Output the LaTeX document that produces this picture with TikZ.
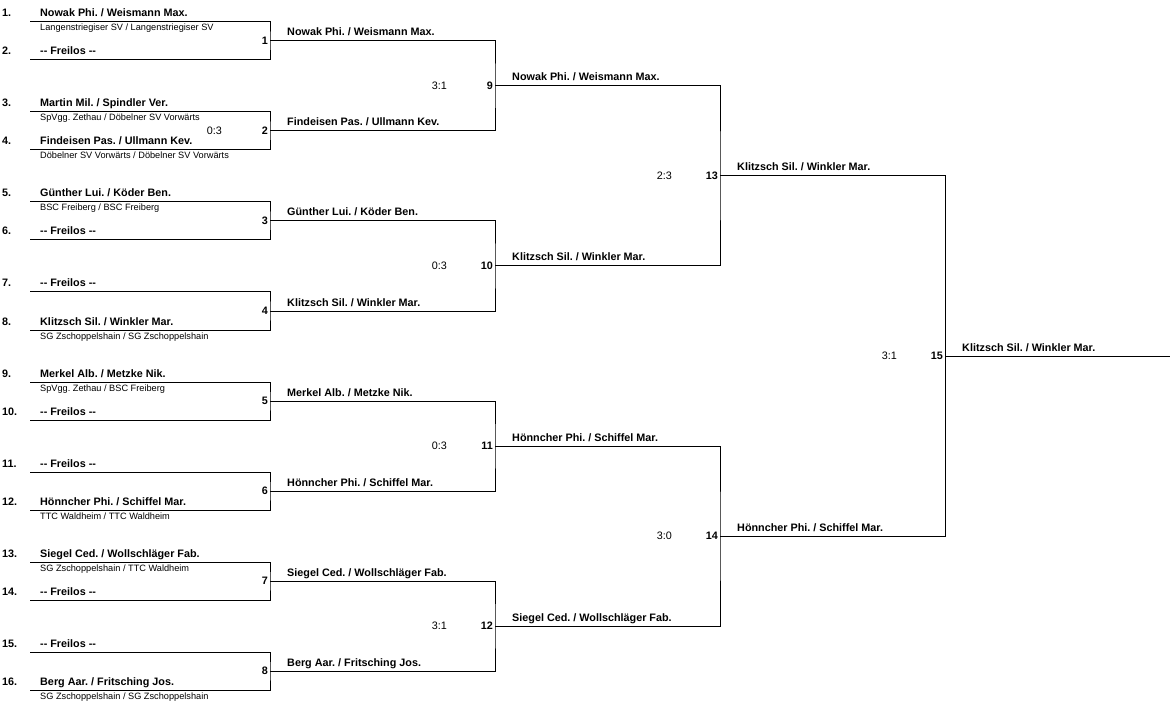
\documentclass[tikz,border=0pt]{standalone}
\usepackage{fontspec}
\setmainfont{Liberation Sans}[Ligatures=TeXOff]
\usetikzlibrary{positioning}
\frenchspacing

\tikzset{
    bracket/.style={line width=1pt},
    player/.style={anchor=base west, inner sep=0pt, font=\bfseries\fontsize{10.8}{12}\selectfont},
    seed/.style={anchor=base west, inner sep=0pt, font=\bfseries\fontsize{10.8}{12}\selectfont},
    club/.style={anchor=base west, inner sep=0pt, font=\fontsize{9.2}{10}\selectfont},
    matchno/.style={anchor=east, inner sep=0pt, font=\bfseries\fontsize{10.8}{12}\selectfont},
    score/.style={anchor=east, inner sep=0pt, font=\fontsize{10.8}{12}\selectfont}
}

\begin{document}
\begin{tikzpicture}[x=1pt,y=-1pt]
        \useasboundingbox (0,0) rectangle (1175,703);

        \foreach \i in {1,...,16}{
            \pgfmathsetmacro{\yy}{22+90*int((\i-1)/2)+38*mod(\i-1,2)}
            \coordinate (p\i) at (30,\yy);
        }
        \foreach \n in {1,...,8}
            \coordinate (m\n) at (270,{41+90*(\n-1)});
        \foreach \n in {9,...,12}
            \coordinate (m\n) at (495,{86+180*(\n-9)});
        \coordinate (m13) at (720,176);
        \coordinate (m14) at (720,536);
        \coordinate (m15) at (945,356);
        \coordinate (end) at (1170,356);

        \foreach \n in {1,...,8}{
            \pgfmathtruncatemacro{\a}{2*\n-1}
            \pgfmathtruncatemacro{\b}{2*\n}
            \draw[bracket] (p\a) -| (m\n) |- (p\b);
        }
        \foreach \n/\a/\b in {9/1/2, 10/3/4, 11/5/6, 12/7/8, 13/9/10, 14/11/12, 15/13/14}
            \draw[bracket] (m\a) -| (m\n) |- (m\b);
        \draw[bracket] (m15) -- (end);

        \foreach \i/\nm/\cl in {
            1/{Nowak Phi. / Weismann Max.}/{Langenstriegiser SV / Langenstriegiser SV},
            2/{-- Freilos --}/{},
            3/{Martin Mil. / Spindler Ver.}/{SpVgg. Zethau / Döbelner SV Vorwärts},
            4/{Findeisen Pas. / Ullmann Kev.}/{Döbelner SV Vorwärts / Döbelner SV Vorwärts},
            5/{Günther Lui. / Köder Ben.}/{BSC Freiberg / BSC Freiberg},
            6/{-- Freilos --}/{},
            7/{-- Freilos --}/{},
            8/{Klitzsch Sil. / Winkler Mar.}/{SG Zschoppelshain / SG Zschoppelshain},
            9/{Merkel Alb. / Metzke Nik.}/{SpVgg. Zethau / BSC Freiberg},
            10/{-- Freilos --}/{},
            11/{-- Freilos --}/{},
            12/{Hönncher Phi. / Schiffel Mar.}/{TTC Waldheim / TTC Waldheim},
            13/{Siegel Ced. / Wollschläger Fab.}/{SG Zschoppelshain / TTC Waldheim},
            14/{-- Freilos --}/{},
            15/{-- Freilos --}/{},
            16/{Berg Aar. / Fritsching Jos.}/{SG Zschoppelshain / SG Zschoppelshain}}{
            \node[seed] (seed\i) at ([shift={(-28,-5)}]p\i) {\i.};
            \node[player] (name\i) at ([shift={(10,-5)}]p\i) {\nm};
            \node[club] (club\i) at ([shift={(10,9)}]p\i) {\cl};
        }

        \foreach \n/\sc/\w in {
            1//{Nowak Phi. / Weismann Max.},
            2/0:3/{Findeisen Pas. / Ullmann Kev.},
            3//{Günther Lui. / Köder Ben.},
            4//{Klitzsch Sil. / Winkler Mar.},
            5//{Merkel Alb. / Metzke Nik.},
            6//{Hönncher Phi. / Schiffel Mar.},
            7//{Siegel Ced. / Wollschläger Fab.},
            8//{Berg Aar. / Fritsching Jos.},
            9/3:1/{Nowak Phi. / Weismann Max.},
            10/0:3/{Klitzsch Sil. / Winkler Mar.},
            11/0:3/{Hönncher Phi. / Schiffel Mar.},
            12/3:1/{Siegel Ced. / Wollschläger Fab.},
            13/2:3/{Klitzsch Sil. / Winkler Mar.},
            14/3:0/{Hönncher Phi. / Schiffel Mar.},
            15/3:1/{Klitzsch Sil. / Winkler Mar.}}{
            \node[matchno] (no\n) at ([shift={(-2,0)}]m\n) {\n};
            \node[score] (sc\n) at ([shift={(-48,0)}]m\n) {\sc};
            \node[player] (win\n) at ([shift={(17,-5)}]m\n) {\w};
        }
\end{tikzpicture}
\end{document}
